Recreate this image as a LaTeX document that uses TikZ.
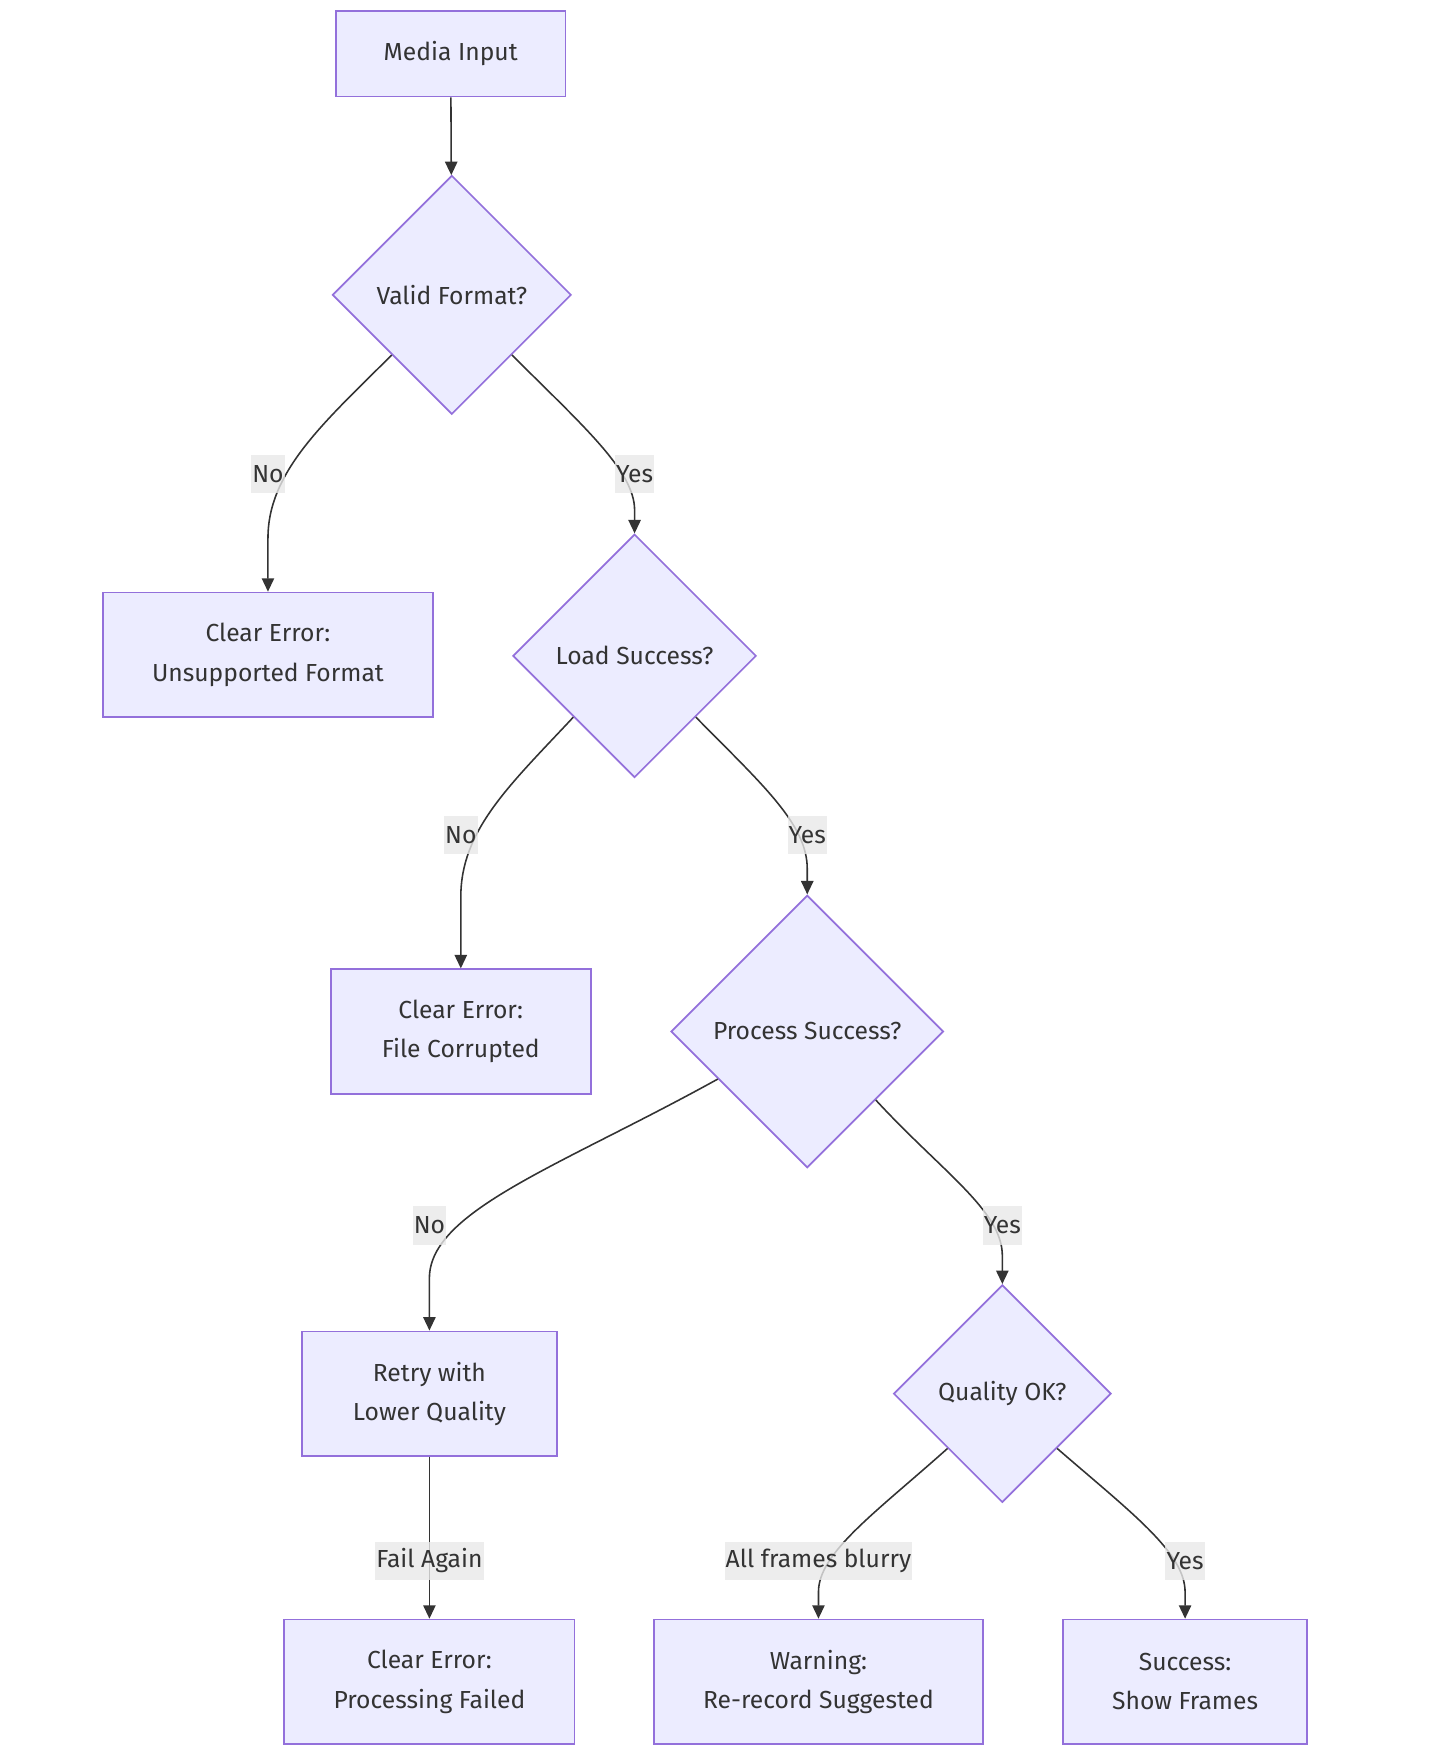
\documentclass[tikz,border=0pt]{standalone}
\usepackage{fontspec}
\setmainfont{Fira Sans}
\usetikzlibrary{arrows.meta,shapes.geometric}
\definecolor{nodefill}{HTML}{ECECFF}
\definecolor{nodeline}{HTML}{9370DB}
\definecolor{inkgray}{HTML}{333333}
\definecolor{lblgray}{HTML}{E8E8E8}

\begin{document}
\begin{tikzpicture}[
  x=1pt, y=-1pt,
  box/.style={draw=nodeline, fill=nodefill, line width=1.5pt, align=center,
    inner sep=0pt, minimum height=111pt, text=inkgray, font=\fontsize{22}{35}\selectfont},
  test/.style={diamond, aspect=1, draw=nodeline, fill=nodefill, line width=1.5pt,
    align=center, inner sep=0pt, text=inkgray, font=\fontsize{22}{35}\selectfont},
  lbl/.style={fill=lblgray, fill opacity=0.8, text opacity=1, text=inkgray,
    inner xsep=1pt, inner ysep=0pt, minimum height=34pt, font=\fontsize{22}{35}\selectfont},
  flow/.style={-{Triangle[length=12pt, width=11pt]}, line width=1.4pt, draw=inkgray}
]
\useasboundingbox (0,0) rectangle (1292,1568);
\node[box, minimum width=205pt, minimum height=76pt] (media) at (402,48) {Media Input};
\node[test, minimum width=213pt, minimum height=213pt] (valid) at (403,263) {Valid Format?};
\node[box, minimum width=294pt] (unsup) at (239,584) {Clear Error:\\Unsupported Format};
\node[test, minimum width=217pt, minimum height=217pt] (load) at (566,585) {Load Success?};
\node[box, minimum width=232pt] (corrupt) at (411,920) {Clear Error:\\File Corrupted};
\node[test, minimum width=243pt, minimum height=243pt] (process) at (720,920) {Process Success?};
\node[box, minimum width=227pt] (retry) at (383,1243) {Retry with\\Lower Quality};
\node[test, minimum width=194pt, minimum height=194pt] (quality) at (894,1243) {Quality OK?};
\node[box, minimum width=259pt] (failed) at (383,1500) {Clear Error:\\Processing Failed};
\node[box, minimum width=293pt] (warning) at (730,1500) {Warning:\\Re-record Suggested};
\node[box, minimum width=218pt] (success) at (1057,1500) {Success:\\Show Frames};

\draw[flow] (media) -- (valid);
\draw[flow] (valid.south west) .. controls (290,376) and (239,420) .. (239,480) -- (unsup.north);
\draw[flow] (valid.south east) .. controls (520,380) and (566,420) .. (566,455) -- (load.north);
\draw[flow] (load.south west) .. controls (455,700) and (411,740) .. (411,800) -- (corrupt.north);
\draw[flow] (load.south east) .. controls (680,700) and (720,735) .. (720,775) -- (process.north);
\draw[flow] (process.208) .. controls (500,1040) and (383,1080) .. (383,1140) -- (retry.north);
\draw[flow] (process.south east) .. controls (840,1045) and (894,1080) .. (894,1120) -- (quality.north);
\draw[flow] (retry) -- (failed);
\draw[flow] (quality.south west) .. controls (780,1350) and (730,1385) .. (730,1420) -- (warning.north);
\draw[flow] (quality.south east) .. controls (1010,1350) and (1057,1385) .. (1057,1420) -- (success.north);

% edge labels
\node[lbl] (validno) at (239,423) {No};
\node[lbl] (validyes) at (566,423) {Yes};
\node[lbl] (loadno) at (411,745) {No};
\node[lbl] (loadyes) at (720,745) {Yes};
\node[lbl] (processno) at (383,1093) {No};
\node[lbl] (processyes) at (894,1093) {Yes};
\node[lbl] (retryfail) at (383,1392) {Fail Again};
\node[lbl] (qualityblur) at (730,1392) {All frames blurry};
\node[lbl] (qualityyes) at (1057,1392) {Yes};
\end{tikzpicture}
\end{document}
